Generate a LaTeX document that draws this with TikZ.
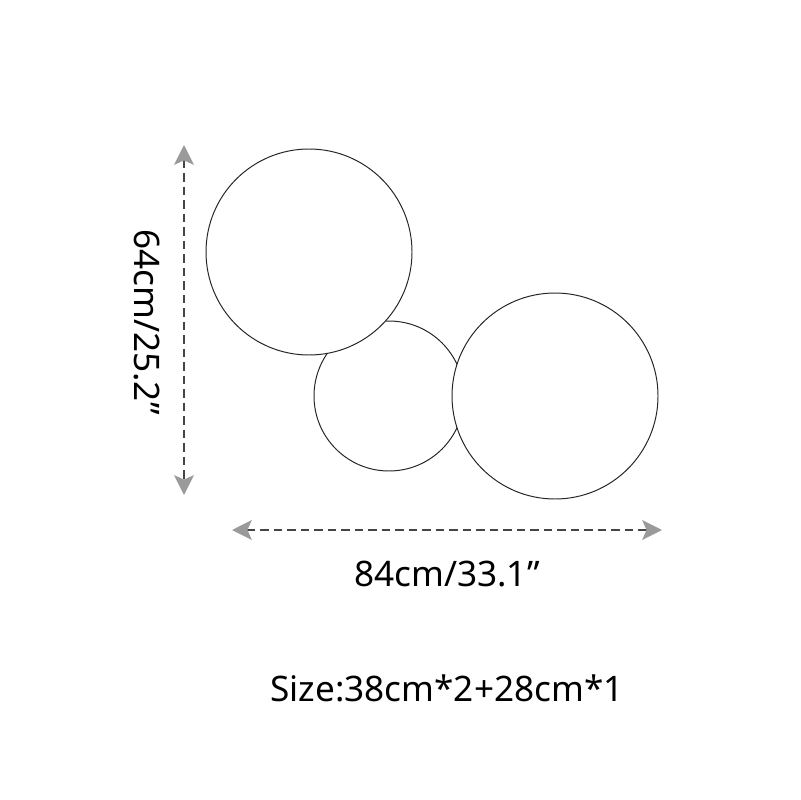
\documentclass[tikz,border=0pt]{standalone}
\usepackage{fontspec}
\setmainfont{Noto Sans}
\usetikzlibrary{arrows.meta}
\definecolor{tipgray}{HTML}{9A9A9A}
\definecolor{dashgray}{HTML}{454545}

\begin{document}
\begin{tikzpicture}[x=0.025cm,y=-0.025cm,
  disc/.style={circle,draw=black!85,fill=white,line width=0.7pt,inner sep=0pt},
  dimline/.style={draw=dashgray,line width=1.9pt,dash pattern=on 6pt off 3.6pt,
    {Stealth[length=14pt,width=14pt,inset=3pt,color=tipgray]}-{Stealth[length=14pt,width=14pt,inset=3pt,color=tipgray]}},
  dimtext/.style={font=\fontsize{25}{30}\selectfont,inner sep=0pt}]
\useasboundingbox (0,0) rectangle (800,800);
% the three discs
\node[disc,minimum size=150*0.025cm] (small) at (389,396) {};
\node[disc,minimum size=206*0.025cm] (left) at (309,252) {};
\node[disc,minimum size=206*0.025cm] (right) at (555,396) {};
% dimensions
\coordinate (htop) at (184,145);
\coordinate (hbot) at (184,495);
\coordinate (wleft) at (232,530);
\coordinate (wright) at (662,530);
\draw[dimline] (htop) -- (hbot);
\draw[dimline] (wleft) -- (wright);
\node[dimtext,rotate=-90] (height) at (147,322) {64cm/25.2”};
\node[dimtext] (width) at (447,574) {84cm/33.1”};
\node[dimtext] (size) at (447,688) {Size:38cm*2+28cm*1};
\end{tikzpicture}
\end{document}
